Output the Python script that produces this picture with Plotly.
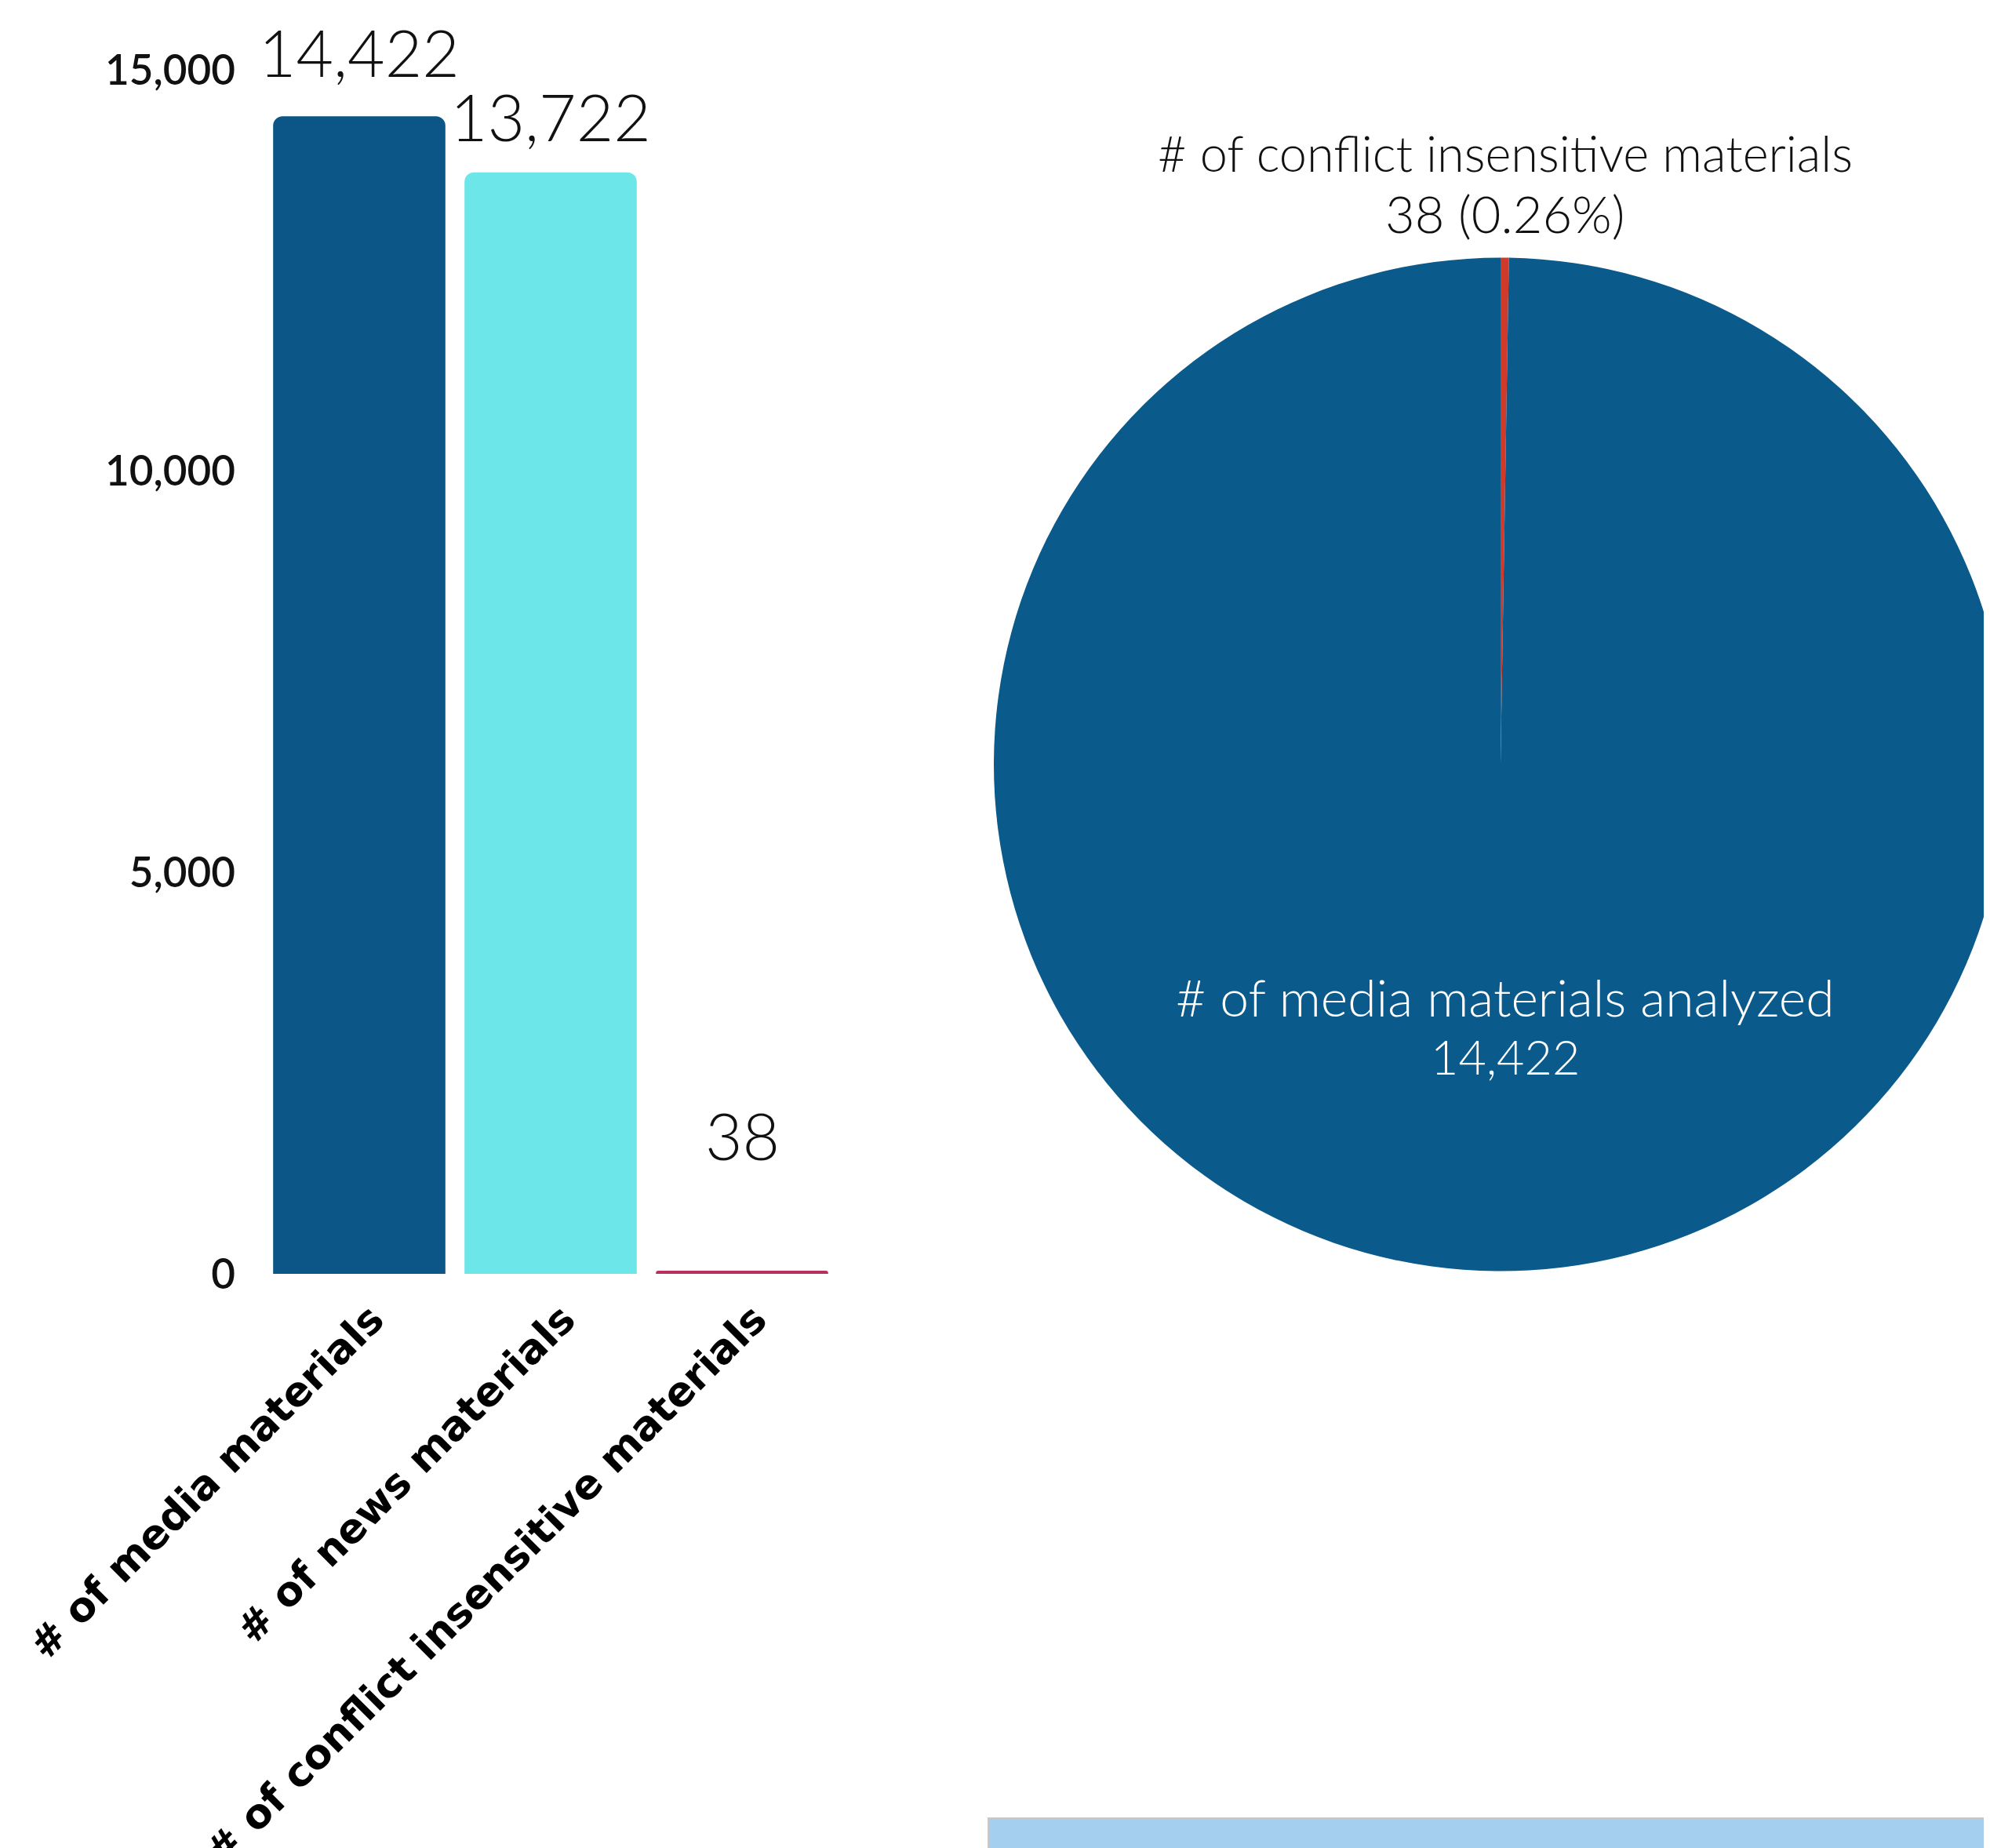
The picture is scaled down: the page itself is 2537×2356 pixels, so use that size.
import plotly.graph_objects as go

# ---- data ----
bar_categories = ["# of media materials", "# of news materials", "# of conflict insensitive materials"]
bar_values = [14422, 13722, 38]
bar_colors = ["#0b5686", "#6ce6e8", "#b8305a"]

pie_labels = ["# of conflict insensitive materials", "# of media materials analyzed"]
pie_values = [38, 14422]
pie_colors = ["#cf3a2a", "#0a5a8c"]

y_ticks = [0, 5000, 10000, 15000]
y_tick_text = ["0", "5,000", "10,000", "15,000"]

# ---- style ----
label_lift = [31, 21, 122]
W, H = 2580, 2356   # figure slightly wider than the window; right edge is cropped
OFF = 8  # page body margin offset


def px_x(s):
    return (s - OFF) / W


def px_y(s):
    return 1 - (s - OFF) / H


fig = go.Figure()
fig.add_trace(go.Bar(
    x=bar_categories, y=bar_values,
    marker=dict(color=bar_colors, line=dict(width=0), cornerradius=12),
    xaxis="x", yaxis="y", showlegend=False, hoverinfo="skip",
))

fig.add_trace(go.Pie(
    labels=pie_labels, values=pie_values, sort=False, direction="counterclockwise",
    rotation=0, marker=dict(colors=pie_colors, line=dict(width=0)),
    textinfo="none", showlegend=False, hoverinfo="skip",
    domain=dict(x=[px_x(1267), px_x(2559)], y=[px_y(1621), px_y(328)]),
))

annotations = []
for cat, val, lift in zip(bar_categories, bar_values, label_lift):
    annotations.append(dict(
        x=cat, y=val, xref="x", yref="y", text=f"{val:,}", showarrow=False,
        xanchor="center", yanchor="bottom", yshift=lift,
        font=dict(family="Lato", size=82, color="#111111", weight=300),
    ))

small_pct = pie_values[0] / pie_values[1] * 100
pie_font = dict(family="Lato", color="#111111", weight=300)
annotations += [
    dict(x=px_x(1919), y=px_y(194), xref="paper", yref="paper", showarrow=False,
         xanchor="center", yanchor="middle",
         text=pie_labels[0], font=dict(pie_font, size=63)),
    dict(x=px_x(1919), y=px_y(272), xref="paper", yref="paper", showarrow=False,
         xanchor="center", yanchor="middle",
         text=f"{pie_values[0]:,} ({small_pct:.2f}%)", font=dict(pie_font, size=65)),
    dict(x=px_x(1919), y=px_y(1270), xref="paper", yref="paper", showarrow=False,
         xanchor="center", yanchor="middle",
         text=pie_labels[1], font=dict(pie_font, size=66, color="#ffffff")),
    dict(x=px_x(1919), y=px_y(1347), xref="paper", yref="paper", showarrow=False,
         xanchor="center", yanchor="middle",
         text=f"{pie_values[1]:,}", font=dict(pie_font, size=61, color="#ffffff")),
]

fig.update_layout(
    width=W, height=H, margin=dict(l=0, r=0, t=0, b=0),
    paper_bgcolor="white", plot_bgcolor="white",
    bargap=0.1,
    xaxis=dict(domain=[px_x(328), px_x(1068)], anchor="y", tickangle=-45, automargin=False,
               showgrid=False, showline=False, zeroline=False, ticks="",
               ticklabelstandoff=16, ticklabelshift=16,
               tickfont=dict(family="DejaVu Sans", size=52, color="#000000", weight="bold")),
    yaxis=dict(domain=[px_y(1624), px_y(89)], anchor="x", range=[0, 15000],
               tickvals=y_ticks, ticktext=y_tick_text, automargin=False,
               showgrid=False, showline=False, zeroline=False, ticks="",
               ticklabelstandoff=27,
               tickfont=dict(family="Lato", size=53, color="#111111", weight=600)),
    annotations=annotations,
    shapes=[dict(type="rect", xref="paper", yref="paper", x0=px_x(1260), x1=1.0,
                 y0=0, y1=px_y(2318), fillcolor="#a5cfee",
                 line=dict(color="#c8c8c8", width=2), layer="above")],
)

fig.write_html("out.html")
